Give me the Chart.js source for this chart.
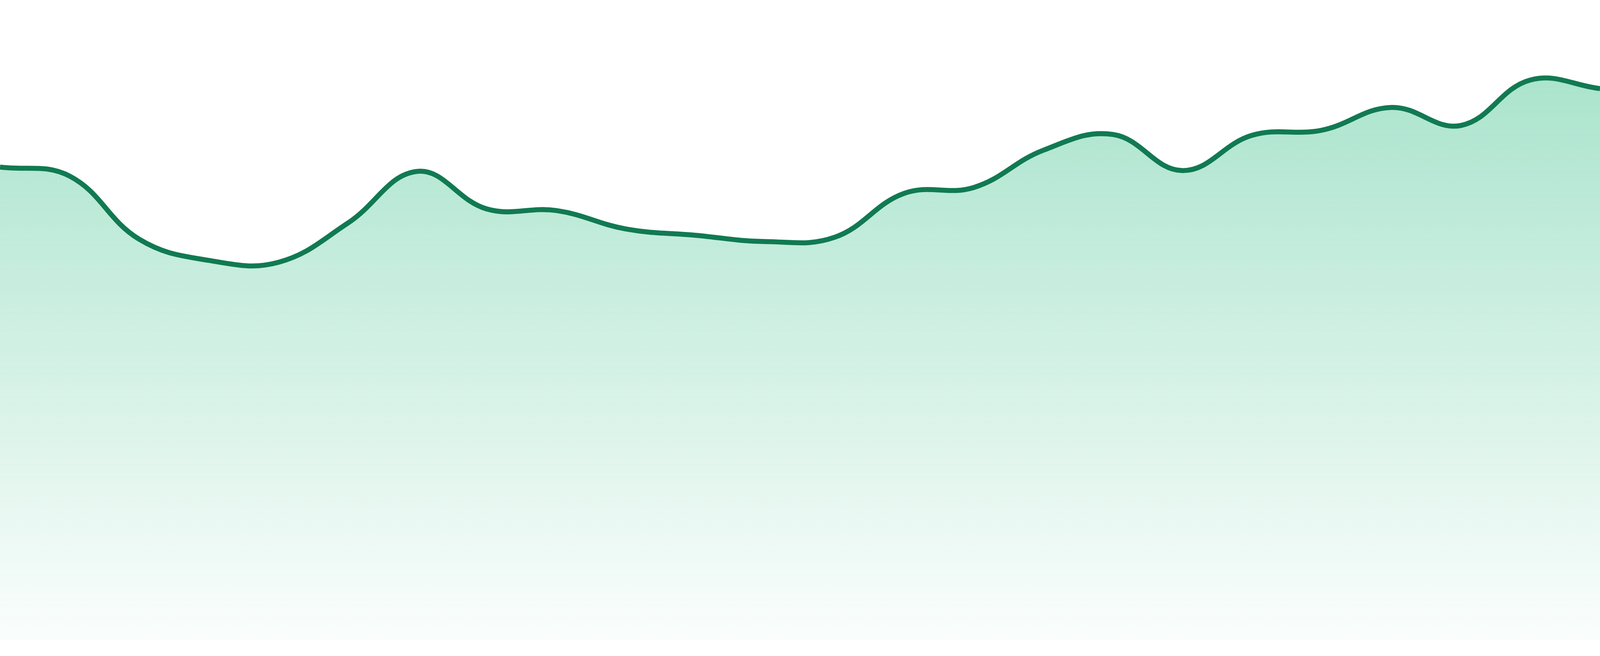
<!DOCTYPE html>
<html>
<head>
<meta charset="utf-8">
<script src="https://cdn.jsdelivr.net/npm/chart.js@4/dist/chart.umd.min.js"></script>
<style>
	html, body { margin: 0; padding: 0; background: #ffffff; overflow: hidden; }
	#wrap { position: relative; width: 100vw; height: 100vh; }
</style>
</head>
<body>
<div id="wrap"><canvas id="chart1"></canvas></div>
<script>
// data (no axes shown, values in plot units)
const labels = ['1','2','3','4','5','6','7','8','9','10','11','12','13','14','15','16','17','18','19','20','21','22','23','24'];
const values = [1207, 1184, 1023, 969, 964, 1064, 1196, 1100, 1096, 1049, 1033, 1017, 1028, 1140, 1155, 1250, 1290, 1198, 1288, 1301, 1359, 1313, 1429, 1407];
const yMin = 0;
const yMax = 1633;

const lineColor = '#117a52';

//screen pixels per css pixel, the sizes below were measured on the 4800 wide picture
const px = 4800 / (window.innerWidth || 4800);

//vertical fade under the line
function areaFill(context) {
	const chart = context.chart;
	const {ctx, chartArea} = chart;
	if(!chartArea) return 'rgba(34,184,124,0.2)';
	let grad = ctx.createLinearGradient(0, chartArea.top, 0, chartArea.bottom);
	grad.addColorStop(0, 'rgba(34,184,124,0.43)');
	grad.addColorStop(1, 'rgba(34,184,124,0.02)');
	return grad;
}

let config = {
	type: 'line',
	data: {
		labels: labels,
		datasets: [{
			data: values,
			borderColor: lineColor,
			borderWidth: 15 / px,
			backgroundColor: areaFill,
			fill: 'start',
			tension: 0.4,
			pointRadius: 0,
			pointHoverRadius: 0
		}]
	},
	options: {
		responsive: true,
		maintainAspectRatio: false,
		animation: false,
		layout: {
			padding: { top: 0, right: 0, bottom: 47 / px, left: 0 }
		},
		plugins: {
			legend: { display: false },
			tooltip: { enabled: false }
		},
		scales: {
			x: {
				display: false,
				offset: false
			},
			y: {
				display: false,
				min: yMin,
				max: yMax
			}
		}
	}
};

window.container1 = new Chart(document.getElementById('chart1'), config);
</script>
</body>
</html>
